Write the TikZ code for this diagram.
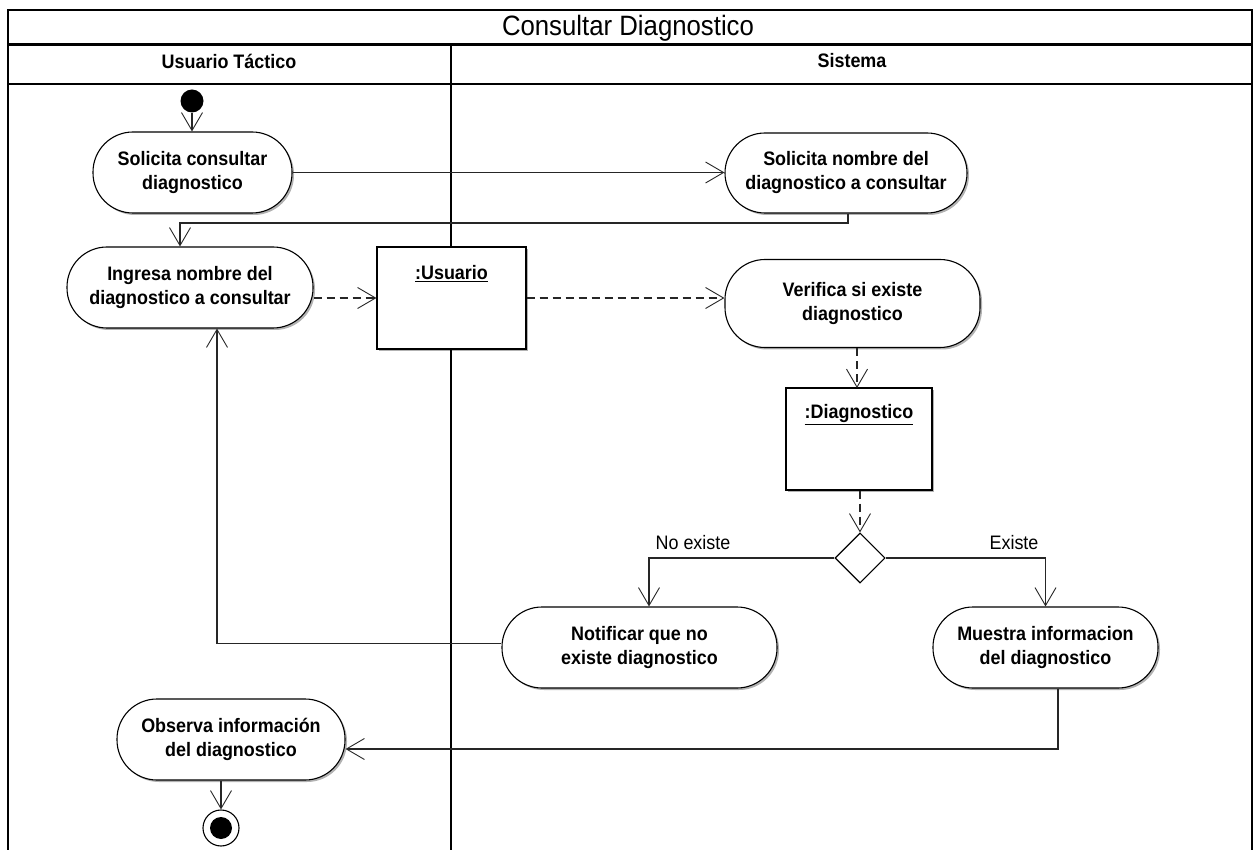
\documentclass[tikz,border=0pt]{standalone}
\usepackage{fontspec}
\setmainfont{Liberation Sans}[FakeStretch=0.92]
\usetikzlibrary{arrows.meta,shapes.geometric,shadows,calc}
\begin{document}
\begin{tikzpicture}[x=1pt,y=-1pt,
  frame/.style={draw=black,line width=1.4pt},
  tipv/.style={-{Straight Barb[length=18pt,width=21pt,line width=0.9pt]}},
  conn/.style={draw=black!85,line width=1.1pt,tipv},
  dconn/.style={conn,dash pattern=on 8pt off 5pt},
  shad/.style={drop shadow={shadow xshift=2pt,shadow yshift=-2pt,fill=black,opacity=0.3}},
  act/.style={draw=black,line width=1.1pt,rectangle,rounded corners=40pt,fill=white,shad,
    align=center,inner sep=0pt,font=\bfseries\fontsize{19.5}{24}\selectfont},
  obj/.style={draw=black,line width=1.1pt,rectangle,fill=white,shad,inner sep=0pt},
  objlbl/.style={font=\bfseries\fontsize{19.5}{22}\selectfont,inner sep=0pt},
  guard/.style={font=\fontsize{19.5}{22}\selectfont,inner sep=0pt},
  lane/.style={font=\bfseries\fontsize{19.5}{22}\selectfont,inner sep=0pt}
]
\useasboundingbox (0,0) rectangle (1254,850);
\fill[white] (0,0) rectangle (1254,850);

% frame
\draw[frame] (8,852) -- (8,10) -- (1252,10) -- (1252,852);
\draw[draw=black,line width=3pt] (8,45) -- (1252,45);
\draw[frame] (8,84) -- (1252,84);
\draw[frame] (451,45) -- (451,852);

\node[font=\fontsize{28}{32}\selectfont,inner sep=0pt] (title) at (628,28) {Consultar Diagnostico};
\node[lane] (lane1) at (229,61) {Usuario Táctico};
\node[lane] (lane2) at (852,61) {Sistema};

% nodes
\node[circle,fill=black,minimum size=23pt,inner sep=0pt] (init) at (192,101) {};
\node[act,minimum width=199pt,minimum height=81pt] (a1) at (192.5,172.5) {Solicita consultar\\diagnostico};
\node[act,minimum width=242pt,minimum height=80pt] (a2) at (846,173) {Solicita nombre del\\diagnostico a consultar};
\node[act,minimum width=246pt,minimum height=81pt] (a3) at (190,287.5) {Ingresa nombre del\\diagnostico a consultar};
\node[obj,minimum width=149pt,minimum height=102pt] (o1) at (451.5,298) {};
\node[objlbl] (o1t) at (451.5,274) {\underline{:Usuario}};
\node[act,minimum width=255pt,minimum height=88pt] (a4) at (852.5,303.5) {Verifica si existe\\diagnostico};
\node[obj,minimum width=146pt,minimum height=102pt] (o2) at (859,439) {};
\node[objlbl] (o2t) at (859,415) {\underline{:Diagnostico}};
\node[diamond,draw=black,line width=1.1pt,fill=white,minimum width=50pt,minimum height=50pt,inner sep=0pt] (d) at (860,558) {};
\node[act,minimum width=275pt,minimum height=81pt] (a5) at (639.5,647.5) {Notificar que no\\existe diagnostico};
\node[act,minimum width=225pt,minimum height=81pt] (a6) at (1045.5,647.5) {Muestra informacion\\del diagnostico};
\node[act,minimum width=228pt,minimum height=81pt] (a7) at (231,739.5) {Observa información\\del diagnostico};
\node[circle,draw=black,line width=1.1pt,fill=white,minimum size=36pt,inner sep=0pt] (fin) at (221,828) {};
\node[circle,fill=black,minimum size=22pt,inner sep=0pt] (finin) at (fin) {};

\node[guard] (gno) at (693,543) {No existe};
\node[guard] (gyes) at (1014,543) {Existe};

% connectors
\draw[conn] (init.south) -- (init.south |- a1.north);
\draw[conn] (a1.east) -- (a1.east -| a2.west);
\coordinate (j1) at (180,223);
\draw[conn] ([xshift=2pt]a2.south) |- (j1) -- (j1 |- a3.north);
\draw[dconn] (a3.east |- o1.west) -- (o1.west);
\draw[dconn] (o1.east) -- (o1.east -| a4.west);
\draw[dconn] (a4.south -| 857,0) -- (857,388);
\draw[dconn] (o2.south -| d.north) -- (d.north);
\draw[conn] (d.west) -| ([xshift=9.5pt]a5.north);
\draw[conn] (d.east) -| (a6.north);
\draw[conn] ([yshift=4pt]a5.west) -| ([xshift=27pt]a3.south);
\draw[conn] ([xshift=12.5pt]a6.south) |- ([yshift=-9.5pt]a7.east);
\draw[conn] (a7.south -| fin.north) -- (fin.north);
\end{tikzpicture}
\end{document}
